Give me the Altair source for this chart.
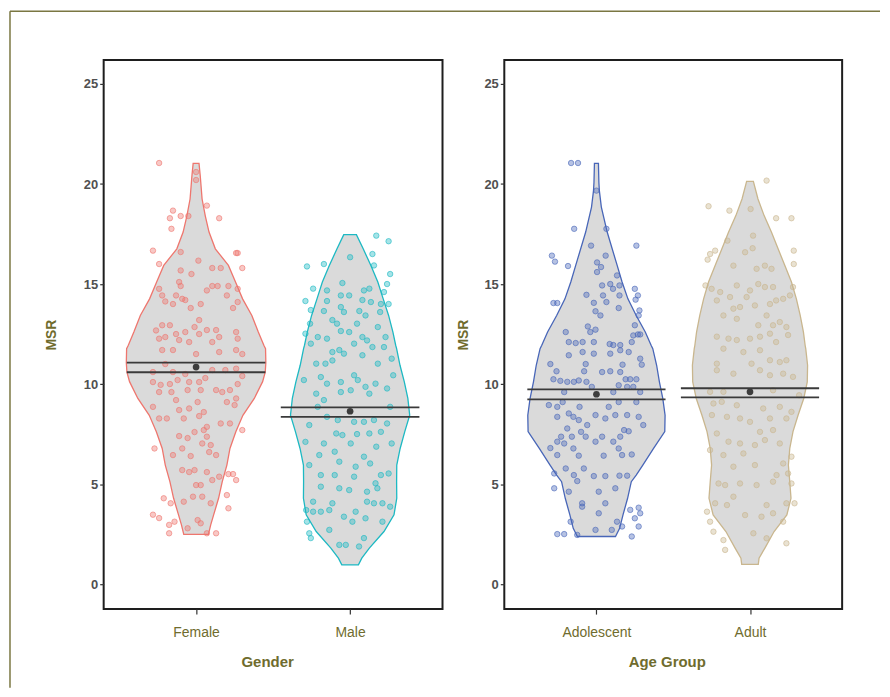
import altair as alt
import pandas as pd

# ---------------- data ----------------
gender_groups = ["Female", "Male"]
age_groups = ["Adolescent", "Adult"]
all_groups = gender_groups + age_groups
group_colors = ["#EE766E", "#1DB9C3", "#4866B8", "#C9B68E"]
y_ticks = [0, 5, 10, 15, 20, 25]

# group means and confidence limits of MSR
means = [10.85, 8.64, 9.49, 9.61]
ci_low = [10.59, 8.36, 9.23, 9.33]
ci_high = [11.07, 8.83, 9.73, 9.79]

# violin outlines: (MSR, half width of density, in category units)
female_violin = [(2.49, 0.08), (2.96, 0.095), (3.46, 0.114), (4.29, 0.146), (5.12, 0.17), (5.95, 0.2),
                 (6.78, 0.22), (7.62, 0.258), (8.44, 0.304), (9.28, 0.378), (10.12, 0.432), (10.59, 0.449),
                 (11.07, 0.453), (11.77, 0.451), (11.94, 0.44), (12.6, 0.404), (13.43, 0.362), (14.26, 0.302),
                 (15.1, 0.256), (15.93, 0.21), (16.76, 0.125), (17.6, 0.084), (18.4, 0.06), (19.25, 0.039),
                 (20.41, 0.027), (21.03, 0.019)]
male_violin = [(0.96, 0.054), (1.3, 0.076), (1.8, 0.125), (2.63, 0.22), (3.46, 0.285), (4.29, 0.303),
               (5.12, 0.302), (5.95, 0.303), (6.78, 0.325), (7.62, 0.355), (8.44, 0.387), (9.28, 0.375),
               (10.11, 0.352), (10.94, 0.324), (11.77, 0.302), (11.94, 0.296), (12.6, 0.278), (13.43, 0.25),
               (14.26, 0.215), (15.1, 0.18), (15.93, 0.135), (16.76, 0.085), (17.47, 0.041)]
adolescent_violin = [(2.38, 0.124), (2.79, 0.151), (3.46, 0.173), (4.29, 0.203), (5.12, 0.227), (5.45, 0.259),
                     (5.95, 0.302), (6.78, 0.372), (7.62, 0.445), (8.44, 0.447), (9.28, 0.432), (10.11, 0.41),
                     (10.94, 0.392), (11.77, 0.367), (11.94, 0.356), (12.6, 0.318), (13.43, 0.259),
                     (14.26, 0.205), (15.1, 0.167), (15.93, 0.135), (17.6, 0.07), (18.85, 0.032),
                     (19.67, 0.019), (20.08, 0.016), (21.03, 0.013)]
adult_violin = [(0.99, 0.054), (1.3, 0.059), (1.8, 0.097), (2.63, 0.157), (3.46, 0.24), (4.29, 0.267),
                (5.12, 0.259), (5.95, 0.25), (6.78, 0.259), (7.62, 0.28), (8.44, 0.313), (9.28, 0.35),
                (10.11, 0.373), (10.94, 0.375), (11.77, 0.363), (11.94, 0.359), (12.6, 0.348), (13.43, 0.327),
                (14.26, 0.302), (15.1, 0.27), (15.93, 0.227), (16.76, 0.183), (17.59, 0.14), (18.42, 0.092),
                (19.25, 0.052), (20.13, 0.022)]

# jittered observations: (horizontal jitter offset, MSR)
female_points = [
    (-0.24, 21.05), (0.0, 20.6), (0.0, 20.2), (0.07, 18.92), (-0.15, 18.67), (-0.17, 18.29), (-0.10, 18.4),
    (-0.05, 18.4), (-0.16, 17.76), (0.15, 18.29), (-0.28, 16.67), (-0.10, 16.6), (0.26, 16.55), (0.27, 16.55),
    (-0.24, 16.0), (0.015, 16.17), (-0.10, 15.68), (-0.03, 15.5), (0.105, 15.8), (0.16, 15.8), (0.30, 15.8),
    (-0.11, 15.1), (-0.10, 14.9), (0.07, 14.68), (0.105, 14.9), (0.14, 14.9), (0.21, 14.9), (0.20, 14.43),
    (0.27, 14.76), (-0.24, 14.76), (-0.22, 14.43), (-0.20, 14.13), (-0.13, 14.43), (-0.09, 14.26),
    (-0.07, 14.2), (-0.15, 14.0), (0.03, 14.0), (-0.035, 13.8), (0.24, 13.8), (0.27, 14.1), (-0.26, 12.68),
    (-0.22, 12.94), (-0.17, 12.94), (-0.13, 12.5), (-0.24, 12.27), (-0.20, 12.35), (-0.11, 12.2),
    (-0.07, 12.6), (-0.01, 12.85), (0.02, 13.2), (0.02, 12.5), (0.07, 12.7), (0.13, 12.7), (0.15, 12.35),
    (0.26, 12.6), (0.27, 12.27), (-0.045, 12.1), (0.105, 12.1),
    (-0.22, 11.7), (-0.15, 11.7), (0.0, 11.5), (0.15, 11.6), (0.26, 11.7), (0.30, 11.5), (-0.20, 11.0),
    (-0.28, 10.6), (-0.15, 10.6), (-0.07, 10.5), (0.105, 10.7), (0.19, 10.7), (0.26, 10.77), (0.30, 10.4),
    (0.06, 10.3), (0.02, 10.1), (-0.28, 10.1), (-0.23, 9.96), (-0.17, 10.0), (-0.12, 10.2), (-0.045, 10.1),
    (-0.24, 9.6), (-0.16, 9.6), (-0.055, 9.7), (0.03, 9.7), (0.13, 9.7), (0.17, 9.6), (0.22, 9.7),
    (0.27, 10.0), (0.20, 9.1), (0.26, 9.28), (0.25, 8.95), (-0.13, 9.2), (0.01, 9.1), (-0.28, 8.86),
    (-0.11, 8.7), (-0.045, 8.78), (0.05, 8.6), (0.02, 8.4), (-0.24, 8.28), (-0.19, 8.28), (-0.08, 8.28),
    (0.16, 8.03), (0.22, 8.03), (0.30, 7.7), (0.07, 7.86), (0.05, 7.7), (-0.01, 7.6), (-0.11, 7.4),
    (-0.055, 7.3), (0.07, 7.37), (-0.27, 6.78), (-0.09, 6.78), (0.04, 7.03), (0.095, 6.95), (0.13, 6.45),
    (-0.035, 6.4), (-0.15, 6.45), (0.085, 6.6), (-0.09, 5.7), (-0.045, 5.6), (-0.01, 5.7), (0.07, 5.6),
    (0.15, 5.37), (0.24, 5.5), (0.26, 5.2), (0.21, 5.5), (0.0, 4.95), (0.03, 4.95), (0.105, 5.2),
    (-0.21, 4.29), (-0.165, 4.04), (-0.08, 4.12), (-0.02, 4.37), (0.04, 4.37), (0.095, 4.04), (0.20, 4.45),
    (0.21, 3.79), (-0.28, 3.47), (-0.24, 3.3), (-0.14, 3.12), (-0.175, 2.96), (0.01, 3.2), (0.03, 3.04),
    (-0.055, 2.79), (-0.175, 2.54), (0.07, 2.54), (0.13, 2.54)]
male_points = [
    (0.17, 17.42), (0.25, 17.14), (0.0, 16.34), (0.145, 16.5), (0.155, 15.93), (-0.28, 15.88), (-0.17, 16.0),
    (0.26, 15.5), (-0.05, 15.05), (-0.24, 14.77), (-0.15, 14.68), (0.09, 14.68), (0.125, 14.77), (0.22, 14.6),
    (0.24, 15.0), (-0.29, 14.15), (-0.15, 14.15), (-0.06, 14.43), (-0.006, 14.43), (0.08, 14.2), (0.135, 14.1),
    (0.25, 14.0), (0.20, 14.0), (-0.255, 13.7), (-0.17, 13.65), (-0.06, 13.85), (-0.04, 13.6), (0.06, 13.65),
    (0.10, 13.43), (0.195, 13.6), (-0.26, 13.02), (-0.115, 13.2), (-0.085, 13.02), (0.045, 13.02),
    (0.18, 12.85), (-0.29, 12.52), (-0.21, 12.35), (-0.15, 12.27), (-0.06, 12.65), (-0.006, 12.6),
    (0.08, 12.35), (0.11, 12.18), (0.23, 12.35), (-0.255, 12.02), (-0.115, 11.6), (-0.07, 11.7),
    (0.026, 12.02), (0.145, 11.85), (0.22, 11.85), (0.27, 11.27), (-0.22, 11.02), (-0.16, 11.02),
    (-0.115, 11.18), (-0.04, 11.52), (0.08, 11.44), (0.18, 11.02), (-0.30, 10.2), (-0.19, 10.35),
    (-0.15, 10.02), (-0.06, 10.1), (0.026, 10.44), (0.05, 10.2), (0.10, 9.86), (0.165, 10.02), (0.28, 10.44),
    (0.24, 9.78), (-0.22, 9.52), (-0.17, 9.2), (-0.06, 9.6), (0.004, 9.69), (0.125, 9.52),
    (-0.21, 8.86), (0.26, 8.86), (-0.15, 8.36), (-0.08, 8.2), (0.026, 8.11), (0.09, 8.11), (0.155, 8.2),
    (0.24, 8.03), (-0.265, 7.95), (-0.09, 7.53), (-0.05, 7.45), (0.045, 7.5), (0.125, 7.53), (0.20, 7.61),
    (-0.29, 7.11), (-0.17, 7.03), (0.004, 7.03), (0.17, 6.87), (0.27, 7.03), (-0.10, 6.62), (0.09, 6.37),
    (-0.20, 6.45), (-0.265, 5.95), (-0.07, 6.12), (0.036, 5.87), (0.13, 6.03), (-0.10, 5.45), (-0.19, 5.45),
    (0.026, 5.37), (0.20, 5.45), (0.25, 5.53), (0.165, 5.04), (-0.19, 4.87), (-0.07, 4.79), (-0.006, 4.7),
    (0.11, 4.62), (0.177, 4.79), (-0.24, 4.12), (-0.115, 4.04), (0.11, 4.12), (0.155, 4.04), (0.21, 4.04),
    (0.26, 3.87), (-0.285, 3.7), (-0.24, 3.62), (-0.19, 3.62), (-0.135, 3.7), (0.036, 3.62), (-0.04, 3.37),
    (0.10, 3.29), (-0.28, 3.12), (0.015, 3.12), (0.21, 3.12), (-0.135, 2.71), (-0.265, 2.54), (-0.255, 2.3),
    (-0.07, 1.96), (-0.028, 1.96), (0.09, 2.3), (0.058, 1.88)]
adolescent_points = [
    (-0.165, 21.05), (-0.12, 21.05), (0.0, 19.67), (-0.145, 17.76), (0.065, 17.76), (-0.035, 16.92),
    (0.26, 16.92), (-0.29, 16.42), (-0.27, 16.12), (-0.185, 15.9), (0.06, 16.42), (0.004, 16.08),
    (0.03, 15.85), (0.004, 15.6), (0.134, 15.43), (0.037, 14.93), (0.09, 15.0), (0.108, 14.76), (0.15, 14.93),
    (-0.065, 14.46), (0.043, 14.43), (0.15, 14.43), (0.25, 14.76), (0.27, 14.43), (-0.28, 14.05),
    (-0.255, 14.05), (-0.017, 14.06), (0.065, 14.1), (0.255, 14.22), (-0.006, 13.64), (0.145, 13.8),
    (0.026, 13.43), (0.28, 13.68), (0.275, 13.43), (-0.056, 12.88), (0.25, 12.94), (-0.20, 12.6),
    (-0.04, 12.6), (-0.006, 12.72), (0.24, 12.43), (0.27, 12.48), (0.285, 12.48), (-0.18, 12.1),
    (-0.135, 12.05), (-0.09, 12.1), (-0.017, 12.1), (0.086, 12.0), (0.11, 11.95), (0.155, 11.95), (0.23, 12.1),
    (-0.18, 11.44), (-0.09, 11.6), (-0.017, 11.52), (0.09, 11.52), (0.155, 11.69), (0.21, 11.6),
    (0.285, 11.27), (0.295, 10.97), (-0.30, 11.0), (-0.07, 11.0), (-0.26, 10.64), (-0.08, 10.64),
    (0.037, 10.6), (0.09, 10.64), (0.155, 10.6), (0.17, 10.97), (-0.28, 10.24), (-0.235, 10.16),
    (-0.19, 10.11), (-0.147, 10.11), (-0.115, 10.18), (-0.065, 10.11), (0.19, 10.24), (0.22, 10.24),
    (0.26, 10.24), (0.145, 9.94), (0.20, 9.86), (0.24, 9.86), (-0.21, 9.6), (-0.03, 9.86), (0.11, 9.6),
    (0.285, 9.6), (-0.31, 8.95), (-0.255, 8.86), (-0.22, 9.1), (-0.11, 8.86), (0.08, 8.86), (0.145, 9.1),
    (0.26, 9.1), (-0.255, 8.36), (-0.18, 8.53), (-0.15, 8.36), (-0.115, 8.2), (-0.006, 8.45), (0.058, 8.28),
    (0.123, 8.45), (0.20, 8.45), (0.275, 8.36), (-0.06, 7.95), (0.305, 7.95), (-0.19, 7.78), (-0.10, 7.61),
    (0.18, 7.7), (0.21, 7.64), (-0.23, 7.37), (-0.16, 7.37), (-0.07, 7.37), (0.037, 7.37), (0.155, 7.37),
    (-0.255, 7.12), (-0.21, 7.03), (-0.006, 7.12), (0.11, 7.12), (-0.30, 6.8), (-0.15, 6.78), (0.145, 6.78),
    (-0.255, 6.45), (-0.115, 6.42), (0.047, 6.42), (0.167, 6.45), (0.23, 6.48), (-0.20, 5.78), (-0.082, 5.78),
    (-0.275, 5.53), (-0.147, 5.45), (-0.017, 5.4), (0.058, 5.4), (0.15, 5.42), (0.20, 5.42), (-0.125, 5.15),
    (-0.275, 4.79), (-0.18, 4.62), (0.015, 4.62), (0.123, 4.79), (-0.093, 4.04), (-0.093, 3.87),
    (0.058, 4.04), (0.015, 3.54), (0.22, 3.71), (0.275, 3.82), (0.285, 3.54), (0.25, 3.29), (-0.168, 3.12),
    (0.134, 3.12), (0.167, 2.88), (0.275, 2.88), (-0.255, 2.5), (-0.21, 2.5), (-0.125, 2.46), (-0.006, 2.71),
    (0.10, 2.71), (0.23, 2.38)]
adult_points = [
    (0.108, 20.17), (-0.27, 18.89), (-0.134, 18.67), (0.004, 18.75), (0.17, 18.29), (0.27, 18.29),
    (-0.147, 17.17), (0.02, 17.42), (-0.227, 16.67), (-0.26, 16.5), (-0.276, 16.22), (-0.032, 16.59),
    (0.017, 16.79), (0.285, 16.67), (0.285, 16.0), (-0.108, 15.92), (0.043, 15.76), (0.097, 15.92),
    (0.14, 15.76), (-0.29, 14.93), (-0.25, 14.76), (-0.194, 14.6), (-0.086, 14.93), (0.0, 14.68),
    (0.054, 15.0), (0.097, 14.85), (0.15, 14.85), (0.28, 14.85), (-0.216, 14.18), (-0.13, 14.35),
    (-0.022, 14.35), (0.17, 14.18), (0.216, 14.26), (0.26, 14.43), (-0.108, 13.77), (-0.065, 13.85),
    (0.032, 13.93), (0.13, 14.0), (-0.173, 13.43), (-0.086, 13.26), (0.108, 13.43), (0.194, 13.1),
    (0.054, 12.94), (0.15, 12.94), (0.237, 12.85), (-0.216, 12.37), (-0.14, 12.27), (-0.086, 12.2),
    (0.0, 12.27), (0.065, 12.37), (0.13, 12.52), (0.17, 12.1), (0.248, 12.45), (-0.173, 11.77),
    (-0.043, 11.6), (0.065, 11.69), (0.13, 11.19), (0.194, 11.1), (0.237, 11.19), (-0.216, 11.02),
    (0.01, 11.02),
    (-0.216, 10.69), (-0.108, 10.52), (0.065, 10.69), (0.13, 10.44), (0.216, 10.52), (0.28, 10.36),
    (-0.26, 9.61), (-0.173, 9.61), (0.15, 9.69), (0.32, 9.44), (-0.238, 9.03), (-0.184, 9.11), (-0.086, 8.94),
    (0.086, 8.78), (0.194, 8.86), (0.27, 8.61), (-0.248, 8.45), (-0.15, 8.36), (-0.065, 8.28), (0.0, 8.11),
    (0.13, 8.28), (0.237, 8.28), (-0.216, 7.53), (0.065, 7.61), (0.15, 7.7), (-0.14, 7.12), (-0.065, 7.03),
    (0.032, 6.95), (0.097, 7.2), (0.194, 7.03), (0.27, 6.37), (-0.26, 6.7), (-0.173, 6.45), (-0.043, 6.53),
    (0.032, 5.95), (-0.108, 5.87), (0.216, 6.03), (0.173, 5.45), (0.248, 5.53), (-0.205, 5.03),
    (-0.162, 4.95), (-0.065, 5.03), (0.043, 4.95), (0.15, 5.12), (0.27, 5.03), (-0.108, 4.37),
    (-0.227, 4.04), (-0.15, 3.95), (0.108, 3.95), (0.237, 4.04), (0.29, 4.04), (-0.28, 3.62), (-0.26, 3.12),
    (-0.032, 3.45), (0.075, 3.37), (0.15, 3.54), (0.216, 3.12), (-0.238, 2.62), (-0.173, 2.2), (0.022, 2.54),
    (0.108, 2.29), (0.237, 2.04), (-0.162, 1.71)]

violins = [female_violin, male_violin, adolescent_violin, adult_violin]
points = [female_points, male_points, adolescent_points, adult_points]

# ---------------- style ----------------
OLIVE = "#6f6c2e"
BORDER = "#7a7742"
FONT = "Liberation Sans"
color_scale = alt.Scale(domain=all_groups, range=group_colors)
CI_HALF = 0.45


def panel(groups, x_title, y_title_x, title_x, width, border=False):
    vrows, prows, srows = [], [], []
    for pos, g in enumerate(groups, start=1):
        i = all_groups.index(g)
        for msr, hw in sorted(violins[i]):
            vrows.append({"group": g, "msr": msr, "lo": pos - hw, "hi": pos + hw})
        for dx, msr in points[i]:
            prows.append({"group": g, "x": pos + dx, "msr": msr})
        srows.append({"group": g, "pos": pos, "lo": pos - CI_HALF, "hi": pos + CI_HALF,
                      "mean": means[i], "cil": ci_low[i], "cih": ci_high[i]})
    vdf, pdf, sdf = pd.DataFrame(vrows), pd.DataFrame(prows), pd.DataFrame(srows)

    label_expr = f"datum.value == 1 ? '{groups[0]}' : '{groups[1]}'"
    x_scale = alt.Scale(domain=[0.4, 2.6], nice=False, zero=False)
    y_scale = alt.Scale(domain=[-1.25, 26.2], nice=False, zero=False)
    x_axis = alt.Axis(values=[1, 2], labelExpr=label_expr, title=x_title, grid=False, domain=False,
                      tickSize=5, tickColor="#333333", tickWidth=1.2, labelPadding=11,
                      labelColor=OLIVE, labelFontSize=14, labelFont=FONT,
                      titleColor=OLIVE, titleFontSize=15, titleFont=FONT, titleFontWeight="bold",
                      titleX=title_x, titleY=53, titleBaseline="middle")
    y_axis = alt.Axis(values=y_ticks, title="MSR", grid=False, domain=False, tickSize=4,
                      tickColor="#333333", tickWidth=1.2, labelPadding=2,
                      labelColor="#505050", labelFontSize=13, labelFont=FONT, labelFontWeight="bold",
                      titleColor=OLIVE, titleFontSize=14, titleFont=FONT, titleFontWeight="bold",
                      titleX=y_title_x, titleBaseline="middle")

    violin = alt.Chart(vdf).mark_area(orient="horizontal", fill="#dadada", fillOpacity=1,
                                      strokeWidth=1.3, interpolate="linear").encode(
        y=alt.Y("msr:Q", scale=y_scale, axis=y_axis),
        x=alt.X("lo:Q", scale=x_scale, axis=x_axis),
        x2="hi:Q",
        stroke=alt.Stroke("group:N", scale=color_scale, legend=None),
        detail="group:N",
    )
    pts = alt.Chart(pdf).mark_circle(size=30, fillOpacity=0.4, strokeOpacity=0.6, strokeWidth=1).encode(
        x="x:Q", y="msr:Q",
        color=alt.Color("group:N", scale=color_scale, legend=None),
        stroke=alt.Stroke("group:N", scale=color_scale, legend=None),
    )
    ci_hi = alt.Chart(sdf).mark_rule(color="#3a3a3a", strokeWidth=1.8).encode(x="lo:Q", x2="hi:Q", y="cih:Q")
    ci_lo = alt.Chart(sdf).mark_rule(color="#3a3a3a", strokeWidth=1.8).encode(x="lo:Q", x2="hi:Q", y="cil:Q")
    mean_pt = alt.Chart(sdf).mark_circle(size=45, color="#3d3d3d", opacity=1).encode(x="pos:Q", y="mean:Q")

    layers = [violin, pts, ci_hi, ci_lo, mean_pt]
    if border:
        bdf = pd.DataFrame({"k": [0]})
        layers.append(alt.Chart(bdf).mark_rule(color=BORDER, strokeWidth=1.5).encode(
            x=alt.value(-94), x2=alt.value(779), y=alt.value(-49)))
        layers.append(alt.Chart(bdf).mark_rule(color=BORDER, strokeWidth=1.5).encode(
            x=alt.value(-94), y=alt.value(-49), y2=alt.value(630)))
    return alt.layer(*layers).properties(width=width, height=551)


left = panel(gender_groups, "Gender", -52, 164, 340, border=True)
right = panel(age_groups, "Age Group", -41, 163, 339)

chart = (
    alt.hconcat(left, right, spacing=62, bounds="flush")
    .resolve_scale(x="independent")
    .properties(padding={"left": 0, "top": 0, "right": 0, "bottom": 0})
    .configure(background="white", font=FONT)
    .configure_view(stroke="#1e1e1e", strokeWidth=2)
)

chart.save("out.html", embed_options={"renderer": "svg", "actions": False})
